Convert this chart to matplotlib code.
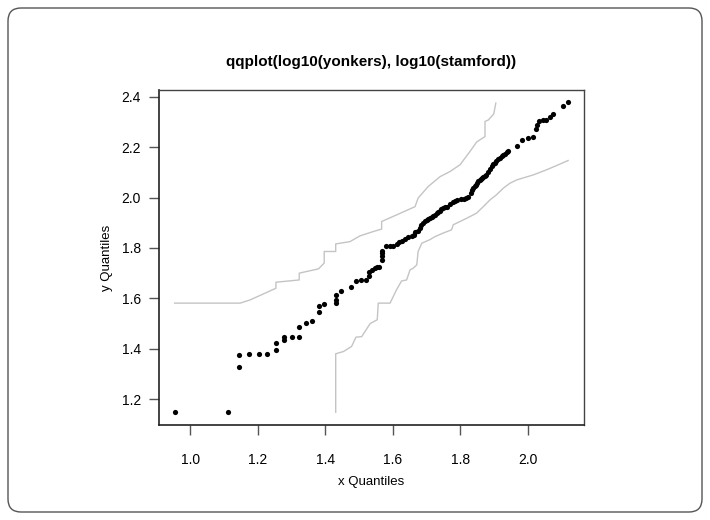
import matplotlib
matplotlib.use("Agg")
import matplotlib.pyplot as plt
from matplotlib.patches import FancyBboxPatch

plt.rcParams['font.family'] = ['Liberation Sans', 'DejaVu Sans']

# --- data ---
qq_x = [0.954, 1.113, 1.146, 1.146, 1.175, 1.203, 1.229, 1.254, 1.254, 1.278,
        1.278, 1.301, 1.322, 1.322, 1.342, 1.362, 1.381, 1.381, 1.397, 1.431,
        1.431, 1.431, 1.448, 1.477, 1.491, 1.506, 1.520, 1.530, 1.530, 1.539,
        1.547, 1.554, 1.560, 1.567, 1.567, 1.567, 1.567, 1.579, 1.592, 1.601,
        1.611, 1.619, 1.627, 1.636, 1.646, 1.656, 1.664, 1.666, 1.675, 1.680,
        1.685, 1.690, 1.695, 1.700, 1.705, 1.710, 1.715, 1.720, 1.725, 1.730,
        1.735, 1.740, 1.744, 1.748, 1.755, 1.761, 1.769, 1.779, 1.785, 1.791,
        1.801, 1.811, 1.817, 1.823, 1.831, 1.835, 1.838, 1.842, 1.845, 1.849,
        1.853, 1.857, 1.860, 1.864, 1.868, 1.872, 1.876, 1.883, 1.888, 1.893,
        1.898, 1.902, 1.907, 1.912, 1.917, 1.922, 1.927, 1.932, 1.937, 1.942,
        1.968, 1.983, 2.001, 2.016, 2.024, 2.028, 2.034, 2.045, 2.055, 2.065,
        2.073, 2.104, 2.120]
qq_y = [1.148, 1.148, 1.327, 1.376, 1.380, 1.380, 1.380, 1.394, 1.421, 1.435,
        1.446, 1.446, 1.448, 1.488, 1.503, 1.512, 1.544, 1.571, 1.579, 1.580,
        1.593, 1.614, 1.629, 1.647, 1.667, 1.672, 1.672, 1.690, 1.703, 1.713,
        1.720, 1.726, 1.726, 1.753, 1.769, 1.779, 1.788, 1.806, 1.806, 1.808,
        1.816, 1.824, 1.829, 1.836, 1.845, 1.849, 1.852, 1.863, 1.869, 1.879,
        1.890, 1.901, 1.905, 1.909, 1.914, 1.918, 1.922, 1.927, 1.932, 1.938,
        1.943, 1.948, 1.953, 1.958, 1.961, 1.964, 1.974, 1.982, 1.987, 1.991,
        1.994, 1.995, 2.000, 2.004, 2.020, 2.028, 2.037, 2.044, 2.050, 2.057,
        2.064, 2.069, 2.073, 2.077, 2.081, 2.086, 2.090, 2.103, 2.113, 2.126,
        2.133, 2.139, 2.146, 2.152, 2.158, 2.163, 2.168, 2.173, 2.179, 2.185,
        2.205, 2.229, 2.236, 2.240, 2.271, 2.288, 2.302, 2.306, 2.308, 2.319,
        2.332, 2.364, 2.380]

# simulation envelope
upper_x = [0.954, 1.148, 1.178, 1.254, 1.254, 1.323, 1.323, 1.380, 1.397, 1.397,
           1.431, 1.431, 1.473, 1.503, 1.542, 1.567, 1.567, 1.611, 1.666, 1.675,
           1.705, 1.740, 1.769, 1.799, 1.828, 1.848, 1.858, 1.873, 1.873, 1.883,
           1.899, 1.905]
upper_y = [1.581, 1.581, 1.594, 1.640, 1.664, 1.673, 1.700, 1.717, 1.740, 1.786,
           1.786, 1.816, 1.825, 1.848, 1.865, 1.875, 1.905, 1.931, 1.964, 1.998,
           2.044, 2.083, 2.103, 2.130, 2.182, 2.220, 2.229, 2.242, 2.302, 2.308,
           2.332, 2.375]
lower_x = [1.431, 1.431, 1.454, 1.478, 1.491, 1.508, 1.533, 1.554, 1.557, 1.592,
           1.611, 1.626, 1.641, 1.651, 1.661, 1.671, 1.675, 1.686, 1.710, 1.725,
           1.749, 1.774, 1.779, 1.819, 1.848, 1.868, 1.888, 1.907, 1.927, 1.947,
           1.967, 2.016, 2.055, 2.090, 2.119]
lower_y = [1.148, 1.380, 1.389, 1.409, 1.446, 1.448, 1.500, 1.515, 1.581, 1.581,
           1.634, 1.669, 1.673, 1.713, 1.720, 1.733, 1.786, 1.819, 1.833, 1.845,
           1.859, 1.872, 1.892, 1.918, 1.938, 1.964, 1.991, 2.011, 2.037, 2.057,
           2.070, 2.090, 2.110, 2.130, 2.147]

x_ticks = [1.0, 1.2, 1.4, 1.6, 1.8, 2.0]
y_ticks = [1.2, 1.4, 1.6, 1.8, 2.0, 2.2, 2.4]

# --- plot ---
fig = plt.figure(figsize=(7.1, 5.2), dpi=100)
ax = fig.add_axes([0.224, 0.183, 0.5985, 0.644])

ax.plot(upper_x, upper_y, color='#c4c4c4', linewidth=1.0)
ax.plot(lower_x, lower_y, color='#c4c4c4', linewidth=1.0)
ax.scatter(qq_x, qq_y, s=14, color='black', linewidths=0, zorder=3)

ax.set_xlim(0.908, 2.166)
ax.set_ylim(1.098, 2.427)
ax.set_xticks(x_ticks)
ax.set_yticks(y_ticks)
ax.set_xticklabels([f'{v:.1f}' for v in x_ticks])
ax.set_yticklabels([f'{v:.1f}' for v in y_ticks])
ax.tick_params(direction='out', length=7, width=1, color='#555555',
               labelsize=10)
ax.tick_params(axis='x', pad=13)
ax.tick_params(axis='y', pad=6)

for side in ['left', 'bottom']:
    ax.spines[side].set_color('#222222')
    ax.spines[side].set_linewidth(1.2)
for side in ['top', 'right']:
    ax.spines[side].set_color('#444444')
    ax.spines[side].set_linewidth(1.0)

ax.set_title('qqplot(log10(yonkers), log10(stamford))', fontsize=11,
             fontweight='bold', pad=17)
ax.set_xlabel('x Quantiles', fontsize=9.5, labelpad=7)
ax.set_ylabel('y Quantiles', fontsize=9.5, labelpad=6)

# rounded frame around the whole figure
frame = FancyBboxPatch((0.08, 0.08), 6.94, 5.04,
                       boxstyle='round,pad=0,rounding_size=0.13',
                       transform=fig.dpi_scale_trans, facecolor='none',
                       edgecolor='#555555', linewidth=1.0)
fig.patches.append(frame)

fig.savefig('out.png', dpi=100)
